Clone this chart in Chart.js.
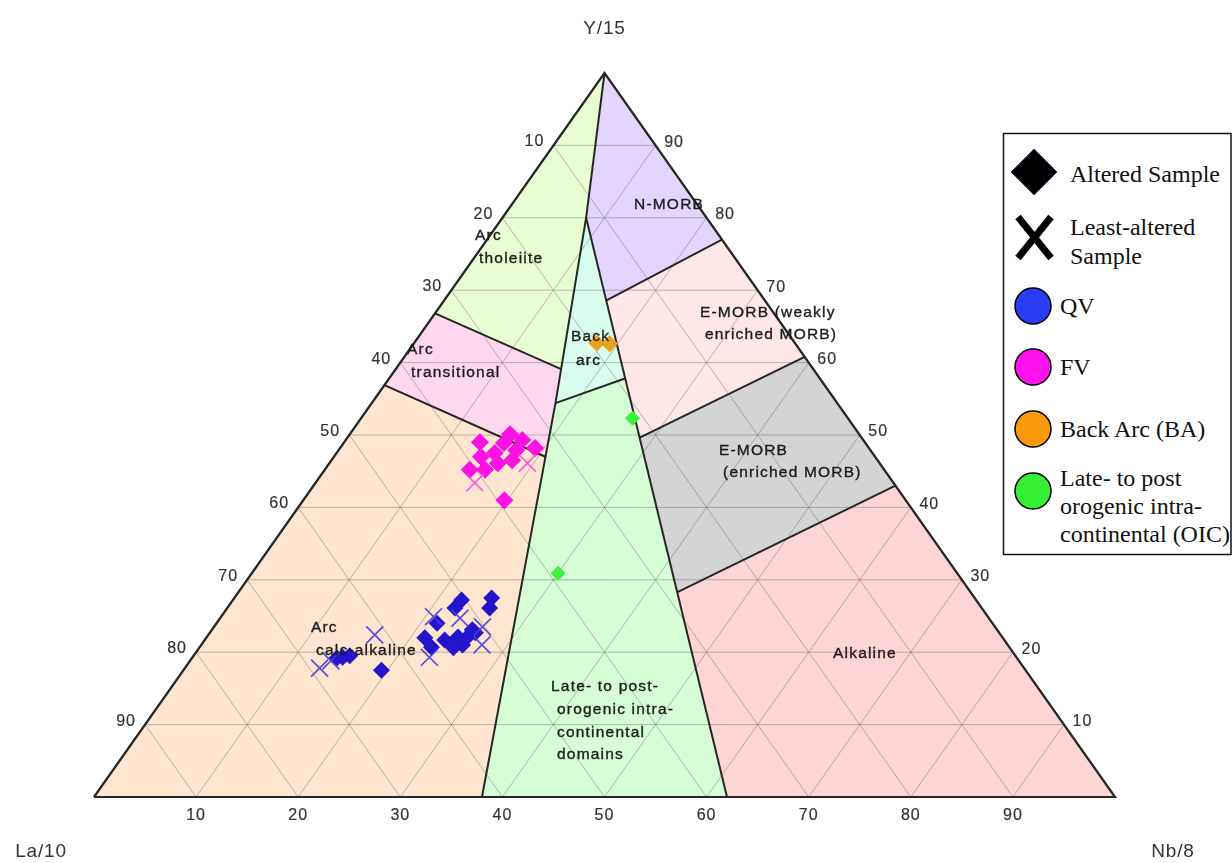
<!DOCTYPE html>
<html>
<head>
<meta charset="utf-8">
<script src="https://cdn.jsdelivr.net/npm/chart.js@4.4.1/dist/chart.umd.min.js"></script>
<style>
html,body{margin:0;padding:0;background:#fff;}
#wrap{position:relative;width:1232px;height:863px;}
#legend{position:absolute;left:0;top:0;pointer-events:none;}
</style>
</head>
<body>
<div id="wrap">
<canvas id="c"></canvas>
<svg id="legend" width="1232" height="863" font-family="'Liberation Serif','Times New Roman',serif" font-size="24" fill="#111">
  <rect x="1003.5" y="133.5" width="227.5" height="421" fill="#fff" stroke="#111" stroke-width="1.5"/>
  <polygon points="1034,149 1057,172 1034,195 1011,172" fill="#000" stroke="#27346a" stroke-width="1"/>
  <text x="1070" y="182">Altered Sample</text>
  <line x1="1018" y1="217" x2="1051" y2="258" stroke="#000" stroke-width="7"/>
  <line x1="1018" y1="258" x2="1051" y2="217" stroke="#000" stroke-width="7"/>
  <text x="1070" y="235">Least-altered</text>
  <text x="1070" y="264">Sample</text>
  <circle cx="1033" cy="306" r="18" fill="#2b3cf6" stroke="#000" stroke-width="1.5"/>
  <text x="1060" y="314">QV</text>
  <circle cx="1033" cy="367" r="18" fill="#ff12ee" stroke="#000" stroke-width="1.5"/>
  <text x="1060" y="375">FV</text>
  <circle cx="1033" cy="429" r="18" fill="#f89a0c" stroke="#000" stroke-width="1.5"/>
  <text x="1060" y="437">Back Arc (BA)</text>
  <circle cx="1033" cy="491" r="18" fill="#35f035" stroke="#000" stroke-width="1.5"/>
  <text x="1060" y="486">Late- to post</text>
  <text x="1060" y="514">orogenic intra-</text>
  <text x="1060" y="542">continental (OIC)</text>
</svg>
</div>
<script>
// ---------- DATA (ternary values: [La/10, Y/15, Nb/8] in %) ----------
const tickValues = [10, 20, 30, 40, 50, 60, 70, 80, 90];
const tickLabels = ['10', '20', '30', '40', '50', '60', '70', '80', '90'];
const cornerLabels = ['La/10', 'Y/15', 'Nb/8'];

// field boundary vertices
const vTop = [0, 100, 0];
const vLa = [100, 0, 0];
const vNb = [0, 0, 100];
const vJunction = [11.8, 80, 8.2];
const vBackArcLeft = [27.6, 54.4, 18.0];
const vBackArcRight = [19.1, 57.8, 23.1];
const vWedgeLeft = [62, 0, 38];
const vWedgeRight = [38, 0, 62];
const vNmorbBase = [15.5, 68.6, 15.9];
const vEmorbTop = [21.8, 49.6, 28.6];
const vAlkTop = [28.7, 28.3, 43.0];
const vRight77 = [0, 77, 23];
const vRight61 = [0, 60.8, 39.2];
const vRight43 = [0, 43, 57];
const vLeft67 = [33.2, 66.8, 0];
const vLeft57 = [43.1, 56.9, 0];
const vTholTrans = [24.7, 59.1, 16.2];
const vTransCalc = [32.3, 47.0, 20.7];

// field polygons
const fieldArcTholeiite = [vTop, vJunction, vTholTrans, vLeft67];
const fieldNmorb = [vTop, vRight77, vNmorbBase, vJunction];
const fieldBackArc = [vJunction, vBackArcRight, vBackArcLeft];
const fieldEmorbWeak = [vNmorbBase, vRight77, vRight61, vEmorbTop];
const fieldEmorb = [vEmorbTop, vRight61, vRight43, vAlkTop];
const fieldAlkaline = [vAlkTop, vRight43, vNb, vWedgeRight];
const fieldLateOrogenic = [vBackArcLeft, vBackArcRight, vEmorbTop, vAlkTop, vWedgeRight, vWedgeLeft];
const fieldArcTransitional = [vLeft67, vTholTrans, vBackArcLeft, vTransCalc, vLeft57];
const fieldArcCalcAlkaline = [vLeft57, vTransCalc, vWedgeLeft, vLa];

// boundary lines
const boundaryLines = [
  [vLa, vNb, vTop, vLa],
  [vTop, vJunction, vBackArcLeft, vWedgeLeft],
  [vJunction, vWedgeRight],
  [vNmorbBase, vRight77],
  [vBackArcLeft, vBackArcRight],
  [vEmorbTop, vRight61],
  [vAlkTop, vRight43],
  [vLeft67, vTholTrans],
  [vLeft57, vTransCalc]
];

// samples
const qvAltered = [
  [50.4, 27.2, 22.4], [47.3, 27.5, 25.2], [48.2, 26.1, 25.7], [51.6, 26.1, 22.3],
  [54.4, 24.0, 21.6], [56.6, 22.0, 21.4], [56.5, 20.7, 22.7], [54.8, 21.7, 23.5],
  [54.5, 20.6, 24.9], [52.5, 22.0, 25.5], [51.4, 22.7, 26.0], [53.4, 21.0, 25.6],
  [65.9, 19.3, 14.7], [66.6, 19.2, 14.2], [65.2, 19.5, 15.3], [63.0, 17.5, 19.4],
  [51.4, 23.1, 25.5], [53.3, 22.1, 24.6]
];
const qvLeastAltered = [
  [61.3, 22.4, 16.3], [69.0, 17.8, 13.2], [67.4, 18.8, 13.8], [54.4, 24.9, 20.8],
  [51.8, 24.7, 23.5], [57.4, 19.3, 23.2], [50.3, 23.5, 26.3], [51.5, 21.0, 27.5]
];
const fvAltered = [
  [37.7, 49.0, 13.3], [34.2, 50.1, 15.7], [32.7, 48.2, 19.1], [38.6, 47.0, 14.4],
  [37.0, 47.5, 15.5], [37.4, 46.1, 16.5], [35.8, 46.5, 17.7], [34.7, 47.9, 17.4],
  [40.6, 45.2, 14.2], [39.1, 45.2, 15.7], [39.2, 41.0, 19.7], [33.4, 49.3, 17.3],
  [35.4, 48.9, 15.7]
];
const fvLeastAltered = [[41.0, 43.4, 15.6], [34.4, 46.1, 19.4]];
const baAltered = [[19.4, 62.7, 17.9], [18.2, 62.6, 19.2]];
const oicAltered = [[21.0, 52.3, 26.6], [39.1, 30.9, 30.0]];

// field labels: [text, u, v] in cartesian diagram units
const fieldLabels = [
  ['N-MORB', 52.89, 81.77], ['Arc', 37.32, 77.49], ['tholeiite', 37.71, 74.31],
  ['Back', 46.72, 63.54], ['arc', 47.21, 60.22],
  ['E-MORB (weakly', 59.35, 66.85], ['enriched MORB)', 59.84, 63.81],
  ['Arc', 30.66, 61.74], ['transitional', 31.05, 58.56],
  ['E-MORB', 61.21, 47.79], ['(enriched MORB)', 61.61, 44.75],
  ['Arc', 21.25, 23.34], ['calc-alkaline', 21.74, 20.17],
  ['Alkaline', 72.38, 19.75],
  ['Late- to post-', 44.76, 15.19], ['orogenic intra-', 45.35, 12.02],
  ['continental', 45.35, 8.84], ['domains', 45.35, 5.80]
];

// ---------- BUILD ----------
const cart = p => ({ x: p[2] + p[1] / 2, y: p[1] });
const datasets = [];

function addField(poly, color) {
  const d = poly.map(cart); d.push(cart(poly[0]));
  datasets.push({ data: d, showLine: true, fill: 'shape', backgroundColor: color,
    borderWidth: 0, pointRadius: 0, pointHoverRadius: 0, order: 4, clip: false, tension: 0 });
}
addField(fieldArcTholeiite, '#e9fdd3');
addField(fieldNmorb, '#e3d5fd');
addField(fieldBackArc, '#d8fcee');
addField(fieldEmorbWeak, '#fde7e7');
addField(fieldEmorb, '#d4d4d4');
addField(fieldAlkaline, '#fed5d5');
addField(fieldLateOrogenic, '#d6fcd6');
addField(fieldArcTransitional, '#fdd7ee');
addField(fieldArcCalcAlkaline, '#fde5d0');

// grid lines
tickValues.forEach(k => {
  const lines = [
    [[100 - k, k, 0], [0, k, 100 - k]],
    [[k, 100 - k, 0], [k, 0, 100 - k]],
    [[100 - k, 0, k], [0, 100 - k, k]]
  ];
  lines.forEach(l => datasets.push({ data: l.map(cart), showLine: true, fill: false,
    borderColor: 'rgba(70,70,70,0.34)', borderWidth: 1, pointRadius: 0, pointHoverRadius: 0,
    order: 3, clip: false }));
});

boundaryLines.forEach((l, i) => datasets.push({ data: l.map(cart), showLine: true, fill: false,
  borderColor: '#262626', borderWidth: i === 0 ? 2.2 : 2, pointRadius: 0, pointHoverRadius: 0,
  order: 2, clip: false, borderJoinStyle: 'miter' }));

function addPoints(arr, style, color, radius, isCross) {
  datasets.push({ data: arr.map(cart), showLine: false, pointStyle: style, pointRadius: radius,
    pointHoverRadius: radius,
    backgroundColor: isCross ? 'transparent' : color, borderColor: color,
    borderWidth: isCross ? 1.7 : 0, order: 1, clip: false });
}
addPoints(qvLeastAltered, 'crossRot', 'rgba(72,62,215,0.9)', 12, true);
addPoints(fvLeastAltered, 'crossRot', 'rgba(250,70,235,0.9)', 12, true);
addPoints(qvAltered, 'rectRot', '#2414cc', 8.5, false);
addPoints(fvAltered, 'rectRot', '#fa12e4', 9, false);
addPoints(baAltered, 'rectRot', '#e9a21c', 8.5, false);
addPoints(oicAltered, 'rectRot', '#3cf03c', 7.5, false);

const textPlugin = {
  id: 'ternText',
  afterDatasetsDraw(chart) {
    const { ctx, scales: { x, y } } = chart;
    const px = u => x.getPixelForValue(u), py = v => y.getPixelForValue(v);
    const draw = (t, X, Y, w) => { ctx.lineWidth = w; ctx.strokeText(t, X, Y); ctx.fillText(t, X, Y); };
    ctx.save();
    // field labels
    ctx.font = '15.5px "Liberation Sans", Arial, sans-serif';
    ctx.letterSpacing = '1.2px';
    ctx.fillStyle = '#1c1c1c'; ctx.strokeStyle = '#1c1c1c';
    ctx.textAlign = 'left'; ctx.textBaseline = 'middle';
    fieldLabels.forEach(([t, u, v]) => draw(t, px(u), py(v), 0.35));
    // tick labels
    ctx.font = '16px "Liberation Sans", Arial, sans-serif';
    ctx.letterSpacing = '1px';
    ctx.fillStyle = '#333'; ctx.strokeStyle = '#333';
    ctx.textAlign = 'center';
    tickValues.forEach((k, i) => {
      const lab = tickLabels[i];
      // bottom (Nb)
      draw(lab, px(k), py(0) + 19, 0.2);
      // left (La): point on left edge with La = k
      const yl = 100 - k;
      draw(lab, px(yl / 2) - 19, py(yl) - 3.5, 0.2);
      // right (Y): point on right edge with Y = k
      draw(lab, px(100 - k / 2) + 18.5, py(k) - 3, 0.2);
    });
    // corner labels
    ctx.font = '19px "Liberation Sans", Arial, sans-serif';
    ctx.letterSpacing = '0.8px';
    ctx.textAlign = 'center';
    ctx.fillText(cornerLabels[1], px(50), py(100) - 44);
    ctx.fillText(cornerLabels[0], px(0) - 53, py(0) + 55);
    ctx.fillText(cornerLabels[2], px(100) + 58, py(0) + 55);
    ctx.restore();
  }
};

new Chart(document.getElementById('c'), {
  type: 'scatter',
  data: { datasets },
  options: {
    responsive: true, maintainAspectRatio: false, animation: false, events: [],
    layout: { padding: { left: 94, right: 117, top: 73, bottom: 66 } },
    scales: {
      x: { type: 'linear', min: 0, max: 100, display: false },
      y: { type: 'linear', min: 0, max: 100, display: false }
    },
    plugins: { legend: { display: false }, tooltip: { enabled: false } }
  },
  plugins: [textPlugin]
});
</script>
</body>
</html>
